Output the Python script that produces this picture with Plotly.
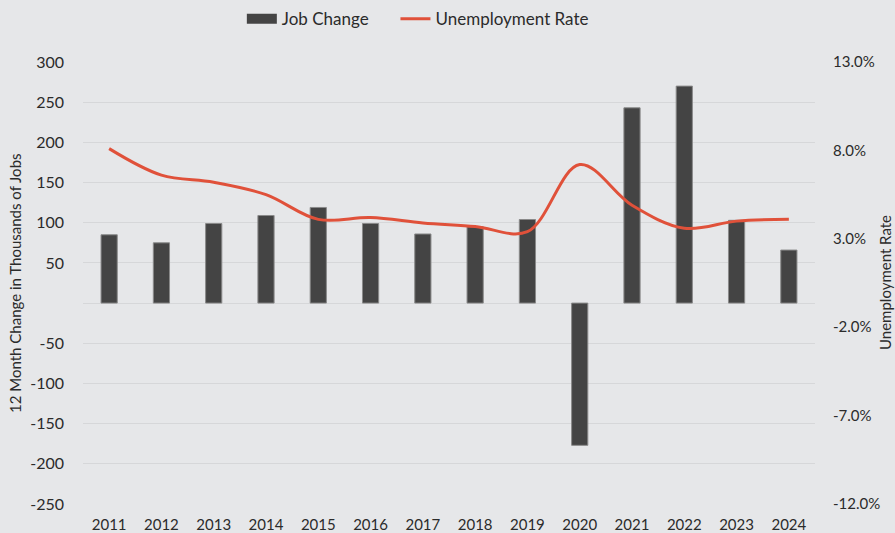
import plotly.graph_objects as go

# Annual figures
years = ["2011", "2012", "2013", "2014", "2015", "2016", "2017",
         "2018", "2019", "2020", "2021", "2022", "2023", "2024"]
job_change = [85, 75, 99, 109, 119, 99, 86, 95, 104, -177, 243, 270, 103, 66]
unemployment_rate = [8.1, 6.6, 6.2, 5.5, 4.1, 4.2, 3.9, 3.7, 3.4, 7.2, 4.9, 3.6, 4.0, 4.1]

left_ticks = list(range(-250, 301, 50))
left_ticktext = ["" if v == 0 else str(v) for v in left_ticks]
right_ticks = [-12, -7, -2, 3, 8, 13]
right_ticktext = [f"{v:.1f}%" for v in right_ticks]

BG = "#E6E7E9"
GRID = "#D6D7D9"
BAR = "#444444"
LINE = "#E0513A"
TEXT = "#2B2B2B"
FONT = "Lato"

fig = go.Figure()

fig.add_trace(go.Bar(
    x=years, y=job_change, name="Job Change",
    marker=dict(color=BAR, line=dict(color="#8A8A8A", width=1)),
    showlegend=False, yaxis="y",
))

# legend key for the bars: a wide dark block (non-breaking spaces widen the gap to the next entry)
fig.add_trace(go.Scatter(
    x=[None], y=[None], mode="lines", name="Job Change" + "\u00a0" * 5,
    line=dict(color=BAR, width=13), yaxis="y",
))

fig.add_trace(go.Scatter(
    x=years, y=unemployment_rate, name="Unemployment Rate",
    mode="lines", line=dict(color=LINE, width=3, shape="spline", smoothing=1.0),
    yaxis="y2",
))

fig.update_layout(
    width=895, height=533,
    margin=dict(l=83, r=80, t=62, b=29, autoexpand=False),
    paper_bgcolor=BG, plot_bgcolor=BG,
    font=dict(family=FONT, size=15, color=TEXT),
    bargap=0.69,
    showlegend=True,
    legend=dict(orientation="h", x=0.217, xanchor="left", y=1.097, yanchor="middle",
                font=dict(size=17, color=TEXT), bgcolor="rgba(0,0,0,0)",
                itemwidth=30, tracegroupgap=0),
    xaxis=dict(showgrid=False, showline=False, zeroline=False, ticks="",
               ticklabelstandoff=10, tickfont=dict(size=15)),
    yaxis=dict(range=[-250, 300], tickvals=left_ticks, ticktext=left_ticktext,
               showgrid=True, gridcolor=GRID, gridwidth=1,
               zeroline=True, zerolinecolor=GRID, zerolinewidth=1,
               showline=False, ticks="", ticklabelstandoff=18,
               tickfont=dict(size=16)),
    yaxis2=dict(range=[-12, 13], tickvals=right_ticks, ticktext=right_ticktext,
                overlaying="y", side="right", showgrid=False, zeroline=False,
                showline=False, ticks="", ticklabelstandoff=17,
                tickfont=dict(size=15)),
    annotations=[
        dict(text="12 Month Change in Thousands of Jobs", xref="paper", yref="paper",
             x=0, y=0.5, xshift=-68, textangle=-90, showarrow=False,
             xanchor="center", yanchor="middle", font=dict(size=15, color=TEXT)),
        dict(text="Unemployment Rate", xref="paper", yref="paper",
             x=1, y=0.5, xshift=70, textangle=-90, showarrow=False,
             xanchor="center", yanchor="middle", font=dict(size=15, color=TEXT)),
    ],
)

fig.write_html("out.html")
